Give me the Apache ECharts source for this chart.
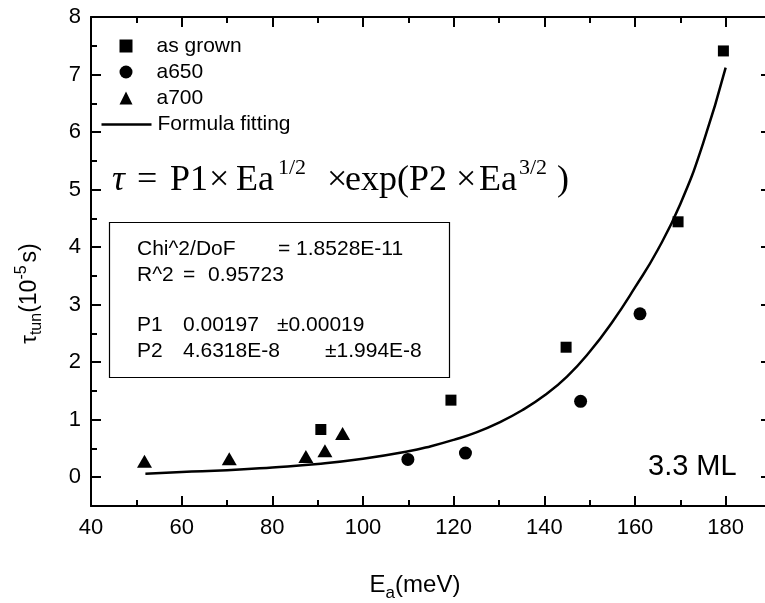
<!DOCTYPE html>
<html>
<head>
<meta charset="utf-8">
<script src="https://cdn.jsdelivr.net/npm/echarts@6/dist/echarts.min.js"></script>
<style>html,body{margin:0;padding:0;background:#fff;}#c{width:765px;height:603px;}</style>
</head>
<body>
<div id="c"></div>
<script>
// ---- data ----
const asGrownX = [90.7, 119.4, 144.8, 169.5, 179.5];
const asGrownY = [0.83, 1.34, 2.26, 4.44, 7.41];
const a650X = [109.9, 122.6, 148.0, 161.1];
const a650Y = [0.31, 0.42, 1.32, 2.84];
const a700X = [51.8, 70.5, 87.4, 91.6, 95.5];
const a700Y = [0.28, 0.32, 0.36, 0.46, 0.76];
const fitX = [52, 60, 70, 80, 90, 100, 110, 115, 120, 125, 130, 135, 140, 145, 150, 155, 160, 165, 170, 175, 180];
const fitY = [0.06, 0.09, 0.12, 0.17, 0.23, 0.32, 0.45, 0.54, 0.65, 0.78, 0.95, 1.16, 1.42, 1.75, 2.18, 2.70, 3.30, 3.95, 4.75, 5.80, 7.12];
const xMajor = [40, 60, 80, 100, 120, 140, 160, 180];
const xMinor = [50, 70, 90, 110, 130, 150, 170];
const yMajor = [0, 1, 2, 3, 4, 5, 6, 7, 8];
const yMinor = [0.5, 1.5, 2.5, 3.5, 4.5, 5.5, 6.5, 7.5];
const seriesNames = ['as grown', 'a650', 'a700', 'Formula fitting'];
const fitStats = [
  ['Chi^2/DoF', '= 1.8528E-11'],
  ['R^2', '=', '0.95723'],
  ['P1', '0.00197', '±0.00019'],
  ['P2', '4.6318E-8', '±1.994E-8']
];
const formulaParts = ['τ', '=', 'P1', '×', 'Ea', '1/2', '×', 'exp(P2', '×', 'Ea', '3/2', ')'];
const sampleLabel = '3.3 ML';

const zip = (a, b) => a.map((v, i) => [v, b[i]]);
const SANS = 'Liberation Sans, Arial, sans-serif';
const SERIF = 'Liberation Serif, Times New Roman, serif';
const blk = '#000';

function xAx(pos, vals, major, showLine, label) {
  return {
    type: 'value', min: 40, max: 190, position: pos,
    axisLine: { show: showLine, onZero: false, lineStyle: { color: blk, width: 2 } },
    splitLine: { show: false },
    axisTick: { show: true, inside: true, length: major ? 10 : 6, customValues: vals, lineStyle: { color: blk, width: 2 } },
    axisLabel: label ? { show: true, customValues: vals, color: blk, fontFamily: SANS, fontSize: 22, margin: 11 } : { show: false }
  };
}
function yAx(pos, vals, major, showLine, label) {
  return {
    type: 'value', min: -0.5, max: 8, position: pos,
    axisLine: { show: showLine, onZero: false, lineStyle: { color: blk, width: 2 } },
    splitLine: { show: false },
    axisTick: { show: true, inside: true, length: major ? 10 : 6, customValues: vals, lineStyle: { color: blk, width: 2 } },
    axisLabel: label ? { show: true, customValues: vals, color: blk, fontFamily: SANS, fontSize: 22, margin: 10 } : { show: false }
  };
}

const xMain = xAx('bottom', xMajor, true, true, true);
xMain.name = 'E{sub|a}(meV)';
xMain.nameLocation = 'middle';
xMain.nameGap = 62;
xMain.nameTextStyle = { color: blk, fontFamily: SANS, fontSize: 24, padding: [0, 32, 0, 0], rich: { sub: { fontFamily: SANS, fontSize: 17, verticalAlign: 'bottom', padding: [17, 0, 0, 0] } } };

const yMain = yAx('left', yMajor, true, true, true);
yMain.name = '{t|τ}{sub|tun}(10{sup|-5}s)';
yMain.nameLocation = 'middle';
yMain.nameGap = 46;
yMain.nameRotate = 90;
yMain.nameTextStyle = { color: blk, fontFamily: SANS, fontSize: 23, padding: [0, 64, 0, 0], rich: {
  t: { fontFamily: SANS, fontSize: 22 },
  sub: { fontFamily: SANS, fontSize: 16, verticalAlign: 'bottom', padding: [15, 0, 0, 0] },
  sup: { fontFamily: SANS, fontSize: 16, verticalAlign: 'top', padding: [0, 3, 15, 0] } } };

const statTexts = [];
const rowY = [249, 275, 325, 351];
const colX = [[137, 278], [137, 183, 208], [137, 183, 277], [137, 183, 325]];
fitStats.forEach((row, r) => row.forEach((t, c) => statTexts.push({
  type: 'text', x: colX[r][c], y: rowY[r],
  style: { text: t, fill: blk, font: '21px ' + SANS, verticalAlign: 'middle' }
})));

const fX = [112, 137, 170, 209, 236, 278, 327, 345, 456, 479, 519, 557];
const formulaTexts = formulaParts.map((t, i) => {
  const sup = (t === '1/2' || t === '3/2');
  return {
    type: 'text', x: fX[i], y: sup ? 168 : 181,
    style: { text: t, fill: blk, verticalAlign: 'middle',
      font: (t === 'τ' ? 'italic ' : '') + (sup ? '22px ' : '36px ') + SERIF }
  };
});

const option = {
  animation: false,
  backgroundColor: '#fff',
  grid: { left: 91, top: 17, right: -6, bottom: 97, containLabel: false, outerBoundsMode: 'none' },
  xAxis: [xMain, xAx('bottom', xMinor, false, false, false), xAx('top', xMajor, true, true, false), xAx('top', xMinor, false, false, false)],
  yAxis: [yMain, yAx('left', yMinor, false, false, false), yAx('right', yMajor, true, true, false), yAx('right', yMinor, false, false, false)],
  legend: [
    { data: seriesNames.slice(0, 3), orient: 'vertical', left: 119.5, top: 35.5, padding: 0, itemWidth: 13, itemHeight: 13, itemGap: 5,
      textStyle: { color: blk, fontFamily: SANS, fontSize: 21, lineHeight: 21, padding: [0, 0, 0, 19] } },
    { data: [{ name: seriesNames[3], icon: 'rect' }], orient: 'vertical', left: 101.5, top: 114, padding: 0, itemWidth: 50, itemHeight: 2.5,
      textStyle: { color: blk, fontFamily: SANS, fontSize: 21, lineHeight: 21, padding: [0, 0, 0, 1] } }
  ],
  series: [
    { name: seriesNames[0], type: 'scatter', data: zip(asGrownX, asGrownY), symbol: 'rect', symbolSize: 11, itemStyle: { color: blk, opacity: 1 } },
    { name: seriesNames[1], type: 'scatter', data: zip(a650X, a650Y), symbol: 'circle', symbolSize: 13, itemStyle: { color: blk, opacity: 1 } },
    { name: seriesNames[2], type: 'scatter', data: zip(a700X, a700Y), symbol: 'triangle', symbolSize: [15, 13], itemStyle: { color: blk, opacity: 1 } },
    { name: seriesNames[3], type: 'line', data: zip(fitX, fitY), symbol: 'none', smooth: true, lineStyle: { color: blk, width: 2.5 }, itemStyle: { color: blk } }
  ],
  graphic: [
    ...formulaTexts,
    { type: 'rect', shape: { x: 109.5, y: 222.5, width: 340, height: 155 }, style: { fill: 'none', stroke: blk, lineWidth: 1.2 } },
    ...statTexts,
    { type: 'text', x: 648, y: 467, style: { text: sampleLabel, fill: blk, font: '29px ' + SANS, verticalAlign: 'middle' } }
  ]
};
const chart = echarts.init(document.getElementById('c'), null, { renderer: 'canvas' });
chart.setOption(option);
</script>
</body>
</html>
